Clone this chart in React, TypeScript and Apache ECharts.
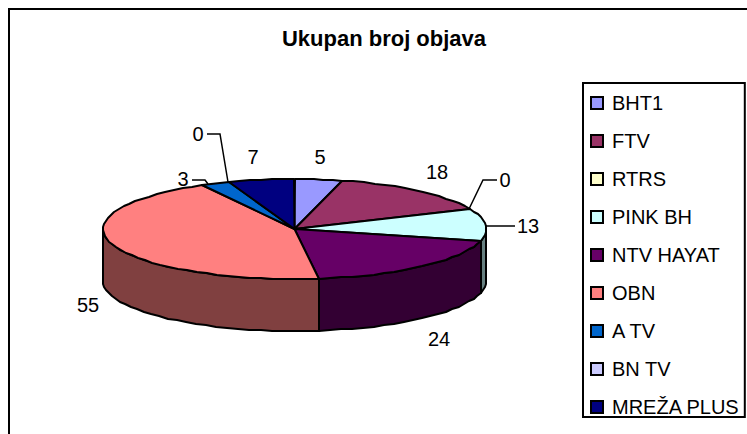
import React, { useEffect, useRef } from "react";
import * as echarts from "echarts";

const channels = ["BHT1", "FTV", "RTRS", "PINK BH", "NTV HAYAT", "OBN", "ATV", "BN TV", "MREŽA PLUS"];
const legendLabels = ["BHT1", "FTV", "RTRS", "PINK BH", "NTV HAYAT", "OBN", "A TV", "BN TV", "MREŽA PLUS"];
const posts = [5, 18, 0, 13, 24, 55, 3, 0, 7];
const colors = ["#9999FF", "#993366", "#FFFFCC", "#CCFFFF", "#660066", "#FF8080", "#0066CC", "#CCCCFF", "#000080"];
const sideColors = ["#4D4D80", "#4D1A33", "#808066", "#668080", "#330033", "#804040", "#003366", "#666680", "#000040"];

const labelAnchors: [number, number][] = [
  [320, 157], [437, 172], [505, 180], [528, 226], [439, 339], [88, 305], [183, 179], [198, 134], [253, 157],
];
const leaders: Record<number, [number, number][]> = {
  2: [[469, 209], [483, 180], [497, 180]],
  3: [[486, 226], [515, 226]],
  6: [[208, 184], [205, 180], [192, 180]],
  7: [[228, 182], [220, 134], [207, 134]],
};

const CX = 294.5, CY = 229, RX = 191.5, RY = 50, DEPTH = 52;
const FONT = "Liberation Sans, Arial, sans-serif";
const total = posts.reduce((a, b) => a + b, 0);

const rimPoint = (deg: number, dy = 0): number[] => {
  const r = (deg * Math.PI) / 180;
  return [Math.round(CX + RX * Math.sin(r)), Math.round(CY - RY * Math.cos(r) + dy)];
};
const arcPoints = (a0: number, a1: number, dy = 0): number[][] => {
  const out: number[][] = [];
  const n = Math.max(1, Math.ceil((a1 - a0) / 3.5));
  for (let i = 0; i <= n; i++) out.push(rimPoint(a0 + ((a1 - a0) * i) / n, dy));
  return out;
};

function sliceItem(index: number) {
  const before = posts.slice(0, index).reduce((a, b) => a + b, 0);
  const a0 = (before / total) * 360;
  const a1 = ((before + posts[index]) / total) * 360;
  const children: any[] = [];
  const line = { stroke: "#000", lineWidth: 2, lineJoin: "round" };
  const s0 = Math.max(a0, 90), s1 = Math.min(a1, 270);
  if (posts[index] > 0) {
    if (s1 > s0) {
      const top = arcPoints(s0, s1);
      const bottom = arcPoints(s0, s1, DEPTH).reverse();
      children.push({
        type: "polygon",
        shape: { points: [...top, ...bottom] },
        style: { fill: sideColors[index], ...line },
      });
    }
    children.push({
      type: "polygon",
      shape: { points: [[CX, CY], ...arcPoints(a0, a1)] },
      style: { fill: colors[index], ...line },
    });
  }
  if (leaders[index]) {
    children.push({
      type: "polyline",
      shape: { points: leaders[index] },
      style: { fill: "none", stroke: "#000", lineWidth: 1.5 },
    });
  }
  children.push({
    type: "text",
    style: {
      text: String(posts[index]),
      x: labelAnchors[index][0],
      y: labelAnchors[index][1],
      fill: "#000",
      font: `20px ${FONT}`,
      align: "center",
      verticalAlign: "middle",
    },
  });
  return { type: "group", children };
}

export default function App() {
  const ref = useRef<HTMLDivElement>(null);
  useEffect(() => {
    const chart = echarts.init(ref.current!, undefined, { renderer: "svg" });
    chart.setOption({
      animation: false,
      backgroundColor: "#fff",
      title: {
        text: "Ukupan broj objava",
        left: 379,
        top: 22,
        textAlign: "center",
        textStyle: { fontFamily: FONT, fontSize: 22, fontWeight: "bold", color: "#000" },
      },
      legend: {
        orient: "vertical",
        left: 583,
        top: 83,
        padding: [10, 5, 0, 7],
        itemWidth: 12,
        itemHeight: 12,
        itemGap: 18,
        icon: "rect",
        borderColor: "#000",
        borderWidth: 2,
        backgroundColor: "#fff",
        itemStyle: { borderColor: "#000", borderWidth: 2 },
        textStyle: { fontFamily: FONT, fontSize: 20, color: "#000", padding: [0, 0, 0, 4] },
        formatter: (n: string) => legendLabels[channels.indexOf(n)],
        data: channels,
      },
      graphic: [
        {
          type: "polyline",
          shape: { points: [[9, 434], [9, 9], [747, 9]] },
          style: { fill: "none", stroke: "#000", lineWidth: 2 },
          silent: true,
        },
      ],
      series: channels.map((name, i) => ({
        type: "custom",
        name,
        coordinateSystem: "none",
        itemStyle: { color: colors[i] },
        data: [posts[i]],
        renderItem: () => sliceItem(i),
        silent: true,
      })),
    });
    return () => chart.dispose();
  }, []);
  return <div ref={ref} style={{ position: "fixed", left: 0, top: 0, width: 747, height: 434 }} />;
}
